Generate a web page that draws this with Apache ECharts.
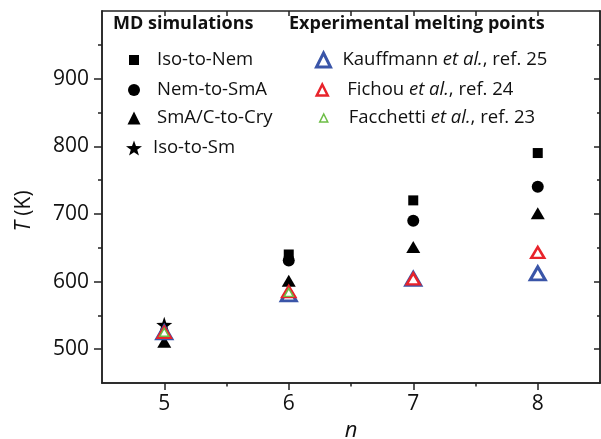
<!DOCTYPE html>
<html>
<head>
<meta charset="utf-8">
<script src="https://cdn.jsdelivr.net/npm/echarts@6/dist/echarts.min.js"></script>
<style>
  html, body { margin: 0; padding: 0; background: #fff; }
  #main { width: 601px; height: 439px; }
</style>
</head>
<body>
<div id="main"></div>
<script>
// data, [n, T(K)]
var isoToNem = [[6, 640], [7, 720], [8, 790]];
var nemToSmA = [[6, 631], [7, 690], [8, 740]];
var smaToCry = [[5, 511], [6, 601], [7, 651], [8, 701]];
var isoToSm = [[5, 536]];
var kauffmann = [[5, 525], [6, 581], [7, 604], [8, 612]];
var fichou = [[5, 525], [6, 585], [7, 604], [8, 643]];
var facchetti = [[5, 525], [6, 584]];

var xTicks = [5, 6, 7, 8];
var xMinor = [5.5, 6.5, 7.5];
var xAllTicks = [5, 5.5, 6, 6.5, 7, 7.5, 8];
var yTicks = [500, 600, 700, 800, 900];
var yMinor = [550, 650, 750, 850, 950];

var FONT = 'Open Sans';
var AX = '#222';

var myChart = echarts.init(document.getElementById('main'));

function xAx(pos, ticks, len, inside, labels) {
    return {
        type: 'value', position: pos, min: 4.5, max: 8.5,
        axisLine: { show: true, onZero: false, lineStyle: { color: AX, width: 1.5 } },
        axisTick: { show: true, inside: inside, length: len, customValues: ticks, lineStyle: { color: AX, width: 1.5 } },
        axisLabel: labels ? { show: true, customValues: labels, margin: 11, color: '#111', fontFamily: FONT, fontSize: 21 } : { show: false },
        splitLine: { show: false }
    };
}
function yAx(pos, ticks, len, inside, labels) {
    return {
        type: 'value', position: pos, min: 450, max: 1000,
        axisLine: { show: true, onZero: false, lineStyle: { color: AX, width: 1.5 } },
        axisTick: { show: true, inside: inside, length: len, customValues: ticks, lineStyle: { color: AX, width: 1.5 } },
        axisLabel: labels ? { show: true, customValues: labels, margin: 13, color: '#111', fontFamily: FONT, fontSize: 21 } : { show: false },
        splitLine: { show: false }
    };
}

var xAxes = [xAx('bottom', xTicks, 7, false, xTicks), xAx('bottom', xMinor, 3.5, false), xAx('top', xAllTicks, 5, true)];
xAxes[0].name = 'n';
xAxes[0].nameLocation = 'middle';
xAxes[0].nameGap = 37;
xAxes[0].nameTextStyle = { fontFamily: FONT, fontSize: 22, fontStyle: 'italic', color: '#111' };

var yAxes = [yAx('left', yTicks, 8, false, yTicks), yAx('left', yMinor, 4, false), yAx('right', yTicks, 6, true), yAx('right', yMinor, 3, true)];

function sc(name, data, symbol, size, color, border, bw) {
    return {
        name: name, type: 'scatter', data: data, symbol: symbol, symbolSize: size,
        itemStyle: border ? { color: '#fff', borderColor: border, borderWidth: bw, opacity: 1 } : { color: color, opacity: 1 },
        emphasis: { disabled: true }
    };
}

// one legend per row: icon centred at cx, label starting at tx
function lg(name, cx, cy, tx, s, bw) {
    var l = {
        data: [name], left: cx - s / 2, top: cy - 11, padding: 0,
        itemWidth: s, itemHeight: s, selectedMode: false, symbolKeepAspect: true,
        textStyle: {
            fontFamily: FONT, fontSize: 18.5, color: '#111', lineHeight: 22,
            padding: [0, 0, 0, tx - (cx + s / 2) - 5],
            rich: { i: { fontFamily: FONT, fontSize: 18.5, fontStyle: 'italic', color: '#111', lineHeight: 22 } }
        },
        formatter: function (n) { return n.replace('et al.', '{i|et al.}'); }
    };
    if (bw) l.itemStyle = { borderWidth: bw };
    return l;
}

option = {
    animation: false,
    grid: { left: 102, right: 1, top: 11, bottom: 56, outerBoundsMode: 'none', containLabel: false },
    xAxis: xAxes,
    yAxis: yAxes,
    graphic: [
        { type: 'text', left: 113, top: 15, style: { text: 'MD simulations', font: 'bold 18px "Open Sans"', fill: '#111' } },
        { type: 'text', left: 289, top: 15, style: { text: 'Experimental melting points', font: 'bold 18px "Open Sans"', fill: '#111' } },
        {
            type: 'text', x: 24, y: 211, rotation: Math.PI / 2,
            style: {
                text: '{i|T} (K)', align: 'center', verticalAlign: 'middle',
                font: '21px "Open Sans"', fill: '#111',
                rich: { i: { fontFamily: FONT, fontSize: 21, fontStyle: 'italic', fill: '#111' } }
            }
        }
    ],
    legend: [
        lg('Iso-to-Nem', 134, 60, 157, 10),
        lg('Nem-to-SmA', 134, 90, 157, 12),
        lg('SmA/C-to-Cry', 134, 118, 157, 13),
        lg('Iso-to-Sm', 134, 148, 153, 16),
        lg('Kauffmann et al., ref. 25', 322, 60, 341, 14, 3),
        lg('Fichou et al., ref. 24', 321, 90, 346, 11, 2.5),
        lg('Facchetti et al., ref. 23', 323, 118, 348, 8, 1.5)
    ],
    series: [
        sc('Iso-to-Nem', isoToNem, 'rect', 10, '#000'),
        sc('Nem-to-SmA', nemToSmA, 'circle', 12, '#000'),
        sc('SmA/C-to-Cry', smaToCry, 'triangle', [14, 12], '#000'),
        sc('Iso-to-Sm', isoToSm, 'path://M0,-10 L2.35,-3.24 L9.51,-3.09 L3.8,1.24 L5.88,8.09 L0,4 L-5.88,8.09 L-3.8,1.24 L-9.51,-3.09 L-2.35,-3.24 Z', 16, '#000'),
        sc('Kauffmann et al., ref. 25', kauffmann, 'triangle', [15, 13], null, '#3a55a8', 3),
        sc('Fichou et al., ref. 24', fichou, 'triangle', [13, 11], null, '#e8232b', 2.5),
        sc('Facchetti et al., ref. 23', facchetti, 'triangle', [9, 8], null, '#6cbd45', 1.5)
    ]
};

myChart.setOption(option);
</script>
</body>
</html>
